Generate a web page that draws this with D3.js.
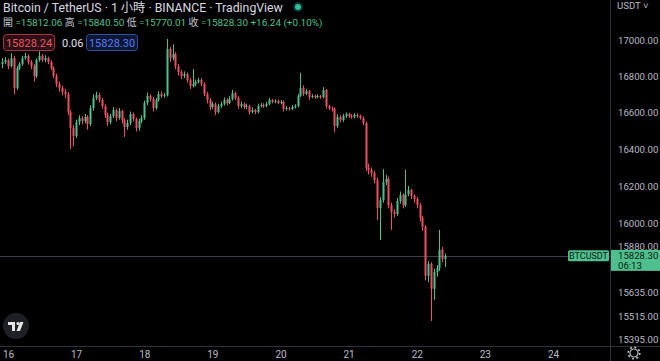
<!DOCTYPE html>
<html>
<head>
<meta charset="utf-8">
<script src="https://cdn.jsdelivr.net/npm/d3@7"></script>
<style>
  html, body { margin: 0; padding: 0; background: #000; }
  svg { display: block; font-family: Roboto, "Noto Sans CJK TC", sans-serif; }
</style>
</head>
<body>
<div id="grafica"></div>
<script>
// Velas de 1 hora BTC/USDT, desde el 15 nov 22:00
var opens = [16869,16880,16891,16857,16902,16735,16846,16869,16902,16914,16880,16857,16802,16891,16914,16891,16902,16880,16846,16802,
  16758,16735,16713,16702,16602,16514,16471,16547,16569,16553,16575,16536,16624,16680,16696,16669,16635,16586,16547,16580,
  16613,16569,16608,16558,16520,16542,16591,16564,16514,16553,16569,16652,16691,16674,16624,16669,16702,16691,16696,16953,
  16902,16925,16857,16824,16802,16813,16780,16746,16758,16769,16780,16758,16702,16669,16630,16646,16602,16635,16646,16669,
  16652,16674,16707,16680,16635,16646,16630,16635,16602,16613,16602,16635,16641,16635,16646,16669,16658,16663,16652,16658,
  16619,16624,16619,16630,16635,16691,16735,16702,16718,16685,16691,16685,16691,16685,16724,16635,16624,16619,16525,16575,
  16558,16580,16591,16580,16575,16586,16580,16569,16542,16297,16286,16270,16232,16081,16124,16221,16237,16097,16060,16050,
  16119,16151,16097,16156,16178,16146,16130,16097,16029,15981,15724,15786,15656,15744,15765,15860,15812.06];
var highs = [16902,16908,16899,16930,16915,16858,16880,16915,16932,16922,16890,16868,16900,16940,16925,16918,16910,16890,16855,16815,
  16770,16748,16730,16712,16612,16530,16560,16585,16580,16592,16585,16640,16700,16715,16708,16680,16645,16598,16592,16630,
  16622,16625,16615,16568,16560,16605,16600,16572,16565,16585,16665,16710,16700,16685,16680,16718,16715,16708,17010,16965,
  16980,16935,16868,16835,16828,16822,16790,16840,16782,16792,16790,16768,16712,16680,16660,16655,16648,16660,16682,16678,
  16690,16725,16715,16690,16660,16655,16648,16642,16628,16620,16648,16652,16650,16658,16680,16675,16672,16670,16668,16665,
  16635,16630,16640,16645,16702,16820,16750,16730,16725,16700,16698,16700,16696,16740,16730,16642,16632,16628,16590,16585,
  16592,16600,16598,16590,16596,16594,16588,16578,16550,16320,16300,16282,16245,16140,16290,16260,16250,16110,16075,16135,
  16170,16160,16286,16200,16185,16155,16140,16108,16040,15990,15800,15795,15760,15780,15965,15875,15840.50];
var lows = [16846,16868,16840,16850,16700,16725,16835,16860,16893,16866,16840,16770,16790,16882,16880,16878,16868,16835,16790,16740,
  16715,16695,16680,16585,16400,16415,16460,16530,16535,16540,16505,16525,16610,16668,16655,16620,16570,16525,16535,16570,
  16552,16560,16540,16465,16505,16530,16550,16495,16500,16540,16560,16640,16660,16605,16615,16660,16680,16682,16688,16880,
  16890,16840,16805,16785,16790,16765,16730,16738,16745,16760,16745,16690,16650,16612,16620,16585,16595,16625,16638,16640,
  16645,16665,16668,16620,16625,16618,16620,16588,16595,16590,16595,16628,16625,16628,16640,16650,16650,16645,16645,16605,
  16610,16610,16612,16622,16628,16685,16690,16695,16670,16678,16675,16678,16675,16678,16620,16612,16605,16490,16515,16545,
  16548,16570,16570,16565,16568,16570,16560,16530,16280,16262,16250,16215,16018,15912,16110,16205,16080,15965,16030,16040,
  16105,16080,16088,16145,16130,16110,16080,16010,15960,15700,15690,15490,15600,15720,15750,15795,15770.01];
var closes = [16880,16891,16857,16902,16735,16846,16869,16902,16914,16880,16857,16802,16891,16914,16891,16902,16880,16846,16802,16758,
  16735,16713,16702,16602,16514,16471,16547,16569,16553,16575,16536,16624,16680,16696,16669,16635,16586,16547,16580,16613,
  16569,16608,16558,16520,16542,16591,16564,16514,16553,16569,16652,16691,16674,16624,16669,16702,16691,16696,16953,16902,
  16925,16857,16824,16802,16813,16780,16746,16758,16769,16780,16758,16702,16669,16630,16646,16602,16635,16646,16669,16652,
  16674,16707,16680,16635,16646,16630,16635,16602,16613,16602,16635,16641,16635,16646,16669,16658,16663,16652,16658,16619,
  16624,16619,16630,16635,16691,16735,16702,16718,16685,16691,16685,16691,16685,16724,16635,16624,16619,16525,16575,16558,
  16580,16591,16580,16575,16586,16580,16569,16542,16297,16286,16270,16232,16081,16124,16221,16237,16097,16060,16050,16119,
  16151,16097,16156,16178,16146,16130,16097,16029,15981,15724,15786,15656,15744,15765,15860,15812.06,15828.30];

var priceTicks = [17000, 16800, 16600, 16400, 16200, 16000, 15880, 15635, 15515, 15395];
var dayTicks = [16, 17, 18, 19, 20, 21, 22, 23, 24];

var W = 660, H = 361;
var plotW = 610, axisY = 346;
var upColor = "#4fc08d", downColor = "#ee4f61";
var axisFont = "9.6px";

var start = new Date(Date.UTC(2022, 10, 15, 22));
var times = closes.map(function(d, i) { return d3.utcHour.offset(start, i); });

var x = d3.scaleUtc()
    .domain([new Date(Date.UTC(2022, 10, 16)), new Date(Date.UTC(2022, 10, 24))])
    .range([8, 553]);

var y = d3.scaleLog()
    .domain([15395, 17000])
    .range([339.5, 40.7]);

var svg = d3.select("#grafica").append("svg")
    .attr("width", W).attr("height", H);

svg.append("rect").attr("width", W).attr("height", H).attr("fill", "#000");

// ajusta el tamaño de letra para que el texto ocupe un ancho dado
function ajustar(sel, ancho) {
  var fs = parseFloat(sel.attr("font-size"));
  var w = sel.node().getComputedTextLength();
  if (w > 0) sel.attr("font-size", (fs * ancho / w).toFixed(2) + "px");
}

// linea del precio actual
var last = closes[closes.length - 1];
svg.append("line")
    .attr("x1", 0).attr("x2", plotW)
    .attr("y1", Math.round(y(last)) + 0.5).attr("y2", Math.round(y(last)) + 0.5)
    .attr("stroke", "#3b3f48").attr("stroke-width", 1);

// velas
var velas = svg.append("g");
closes.forEach(function(c, i) {
  var o = opens[i];
  var cx = Math.round(x(times[i]));
  var col = c >= o ? upColor : downColor;
  velas.append("line")
      .attr("x1", cx + 0.5).attr("x2", cx + 0.5)
      .attr("y1", y(highs[i])).attr("y2", y(lows[i]))
      .attr("stroke", col).attr("stroke-width", 1);
  var top = y(Math.max(o, c)), bot = y(Math.min(o, c));
  velas.append("rect")
      .attr("x", cx - 0.5).attr("width", 2)
      .attr("y", top).attr("height", Math.max(1, bot - top))
      .attr("fill", col);
});

// ejes
svg.append("line").attr("x1", plotW + 0.5).attr("x2", plotW + 0.5)
    .attr("y1", 0).attr("y2", H).attr("stroke", "#2f323a");
svg.append("line").attr("x1", 0).attr("x2", W)
    .attr("y1", axisY + 0.5).attr("y2", axisY + 0.5).attr("stroke", "#2f323a");

var yAxis = svg.append("g")
    .attr("transform", "translate(" + (plotW + 3) + ",0)")
    .call(d3.axisRight(y).tickValues(priceTicks).tickFormat(d3.format(".2f")).tickSize(0));
yAxis.select(".domain").remove();
yAxis.selectAll("text").attr("fill", "#b8bbc4").attr("font-size", axisFont)
    .attr("font-family", "Roboto, sans-serif").attr("x", 5);

var xAxis = svg.append("g")
    .attr("transform", "translate(0," + axisY + ")")
    .call(d3.axisBottom(x)
      .tickValues(dayTicks.map(function(d) { return new Date(Date.UTC(2022, 10, d)); }))
      .tickFormat(d3.utcFormat("%-d")).tickSize(0));
xAxis.select(".domain").remove();
xAxis.selectAll("text").attr("fill", "#b8bbc4").attr("font-size", "10px")
    .attr("font-family", "Roboto, sans-serif").attr("y", 5);

svg.append("text").attr("x", 617).attr("y", 9)
    .attr("fill", "#b8bbc4").attr("font-size", "9.6px").text("USDT \u02c5");

// etiquetas del precio actual
var py = y(last);
svg.append("rect").attr("x", 568).attr("y", py - 5.5).attr("width", 41).attr("height", 11)
    .attr("rx", 1.5).attr("fill", upColor);
svg.append("text").attr("x", 588.5).attr("y", py + 3.3).attr("text-anchor", "middle")
    .attr("fill", "#0b1a12").attr("font-size", "9px").text("BTCUSDT");
svg.append("rect").attr("x", 611).attr("y", py - 6).attr("width", 49).attr("height", 21)
    .attr("fill", upColor);
svg.append("text").attr("x", 618).attr("y", py + 3.4)
    .attr("fill", "#0b1a12").attr("font-size", axisFont).text(d3.format(".2f")(last));
svg.append("text").attr("x", 618).attr("y", py + 13.2)
    .attr("fill", "#0b1a12").attr("font-size", axisFont).text("06:13");

// icono de ajustes
var gear = svg.append("g").attr("transform", "translate(634,353)");
gear.append("circle").attr("r", 4).attr("fill", "none").attr("stroke", "#b8bbc4").attr("stroke-width", 1.2);
gear.append("circle").attr("r", 5.8).attr("fill", "none").attr("stroke", "#b8bbc4")
    .attr("stroke-width", 1.6).attr("stroke-dasharray", "2 2.5");

// cabecera
var titulo = svg.append("text").attr("x", 3).attr("y", 12)
    .attr("fill", "#d8dae0").attr("font-size", "12.6px")
    .text("Bitcoin / TetherUS \u00b7 1 \u5c0f\u6642 \u00b7 BINANCE \u00b7 TradingView");
ajustar(titulo, 280);
svg.append("circle").attr("cx", 298).attr("cy", 7).attr("r", 5).attr("fill", "#1f8f7e").attr("opacity", 0.35);
svg.append("circle").attr("cx", 298).attr("cy", 7).attr("r", 3).attr("fill", "#2bbf9f");

var ohlcLabels = ["\u958b", "\u9ad8", "\u4f4e", "\u6536"];
var lastIdx = closes.length - 1;
var ohlcVals = [opens[lastIdx], highs[lastIdx], lows[lastIdx], closes[lastIdx]];
var chg = closes[lastIdx] - closes[lastIdx - 1];
var linea = svg.append("text").attr("x", 3).attr("y", 26).attr("font-size", "10.5px");
ohlcLabels.forEach(function(l, i) {
  linea.append("tspan").attr("fill", "#c8cad0").text((i ? " " : "") + l + " ");
  linea.append("tspan").attr("fill", upColor).text("=" + d3.format(".2f")(ohlcVals[i]));
});
linea.append("tspan").attr("fill", upColor)
    .text(" +" + d3.format(".2f")(chg) + " (+" + d3.format(".2f")(chg / closes[lastIdx - 1] * 100) + "%)");
ajustar(linea, 320);

// bid / ask
svg.append("rect").attr("x", 3.5).attr("y", 34.5).attr("width", 51).attr("height", 16).attr("rx", 3)
    .attr("fill", "#2a1116").attr("stroke", "#a8323f");
svg.append("text").attr("x", 29).attr("y", 46.5).attr("text-anchor", "middle")
    .attr("fill", "#f0525f").attr("font-size", "11px").text("15828.24");
svg.append("text").attr("x", 62).attr("y", 46.5)
    .attr("fill", "#e0e2e6").attr("font-size", "11px").text("0.06");
svg.append("rect").attr("x", 86.5).attr("y", 34.5).attr("width", 51).attr("height", 16).attr("rx", 3)
    .attr("fill", "#0f1630").attr("stroke", "#2f4fa8");
svg.append("text").attr("x", 112).attr("y", 46.5).attr("text-anchor", "middle")
    .attr("fill", "#4d7cff").attr("font-size", "11px").text("15828.30");

// logo TV
var logo = svg.append("g").attr("transform", "translate(16,326)");
logo.append("circle").attr("r", 13).attr("fill", "#1e2026");
logo.append("path").attr("d", "M-8,-4 h7 v9 h-3 v-6 h-4 z").attr("fill", "#e6e6e6");
logo.append("circle").attr("cx", 2).attr("cy", -2.5).attr("r", 1.6).attr("fill", "#e6e6e6");
logo.append("path").attr("d", "M4,-4 h3.5 l-3.5,9 h-3.5 z").attr("fill", "#e6e6e6");
</script>
</body>
</html>
